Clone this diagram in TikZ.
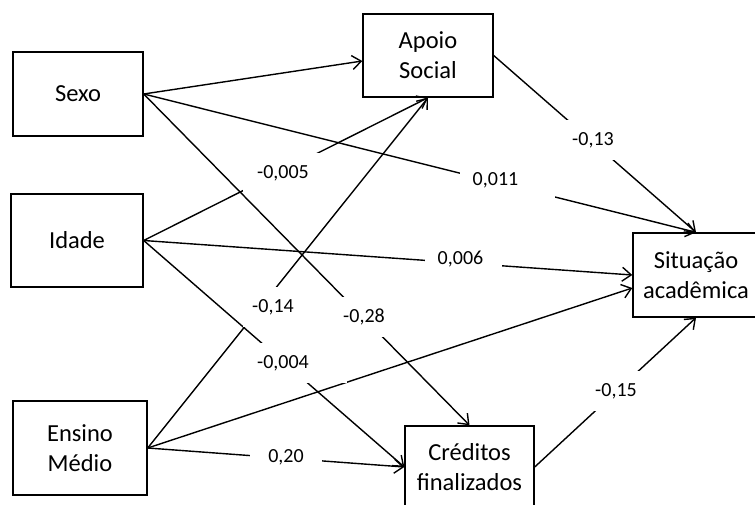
\documentclass[tikz,border=0pt]{standalone}
\usepackage{fontspec}
\setmainfont{Carlito}
\usetikzlibrary{arrows.meta}
\begin{document}
\begin{tikzpicture}[x=1pt,y=-1pt,
  box/.style={draw, line width=1.4pt, align=center, inner sep=0pt,
    font=\fontsize{24.5}{30}\selectfont},
  conn/.style={line width=1.4pt, -{Straight Barb[length=9pt,width=14pt]}},
  lbl/.style={fill=white, inner sep=0pt, minimum height=40pt,
    font=\fontsize{20}{24}\selectfont}]
\useasboundingbox (0,0) rectangle (755,505);
% boxes
\node[box, minimum width=130pt, minimum height=84pt] (sexo) at (78,94) {Sexo};
\node[box, minimum width=132pt, minimum height=93pt] (idade) at (77,240.5) {Idade};
\node[box, minimum width=134pt, minimum height=94pt] (ensino) at (80,448) {Ensino\\Médio};
\node[box, minimum width=130pt, minimum height=83pt] (apoio) at (428,55.5) {Apoio\\Social};
\node[box, minimum width=126pt, minimum height=84pt] (sit) at (696,275) {Situação\\acadêmica};
\node[box, minimum width=129pt, minimum height=82pt] (cred) at (469.5,467) {Créditos\\finalizados};
% connectors
\draw[conn] (sexo.east) -- ([yshift=-5.5pt]apoio.west);
\draw[conn] (sexo.east) -- (sit.north);
\draw[conn] (sexo.east) -- (cred.north);
\draw[conn] (idade.east) -- (apoio.south);
\draw[conn] (idade.east) -- (sit.west);
\draw[conn] (idade.east) -- (cred.west);
\draw[conn] (ensino.east) -- (apoio.south);
\draw[conn] (ensino.east) -- ([yshift=-13pt]sit.west);
\draw[conn] (ensino.east) -- (cred.west);
\draw[conn] (apoio.east) -- (sit.north);
\draw[conn] (cred.east) -- (sit.south);
% labels
\node[lbl, minimum width=80pt] (l1) at (283,173) {-0,005};
\node[lbl, minimum width=95pt] (l2) at (507.5,180) {0,011\hspace*{24pt}};
\node[lbl, minimum width=70pt] (l3) at (593,140) {-0,13};
\node[lbl, minimum width=77pt] (l4) at (463.5,259) {0,006\hspace*{6pt}};
\node[lbl, minimum width=60pt] (l5) at (273,307) {-0,14};
\node[lbl, minimum width=76pt] (l6) at (364,317) {-0,28};
\node[lbl, minimum width=102pt] (l7) at (296,363) {-0,004\hspace*{26pt}};
\node[lbl, minimum width=72pt] (l8) at (286,457) {0,20};
\node[lbl, minimum width=60pt] (l9) at (616,391) {-0,15};
\end{tikzpicture}
\end{document}
